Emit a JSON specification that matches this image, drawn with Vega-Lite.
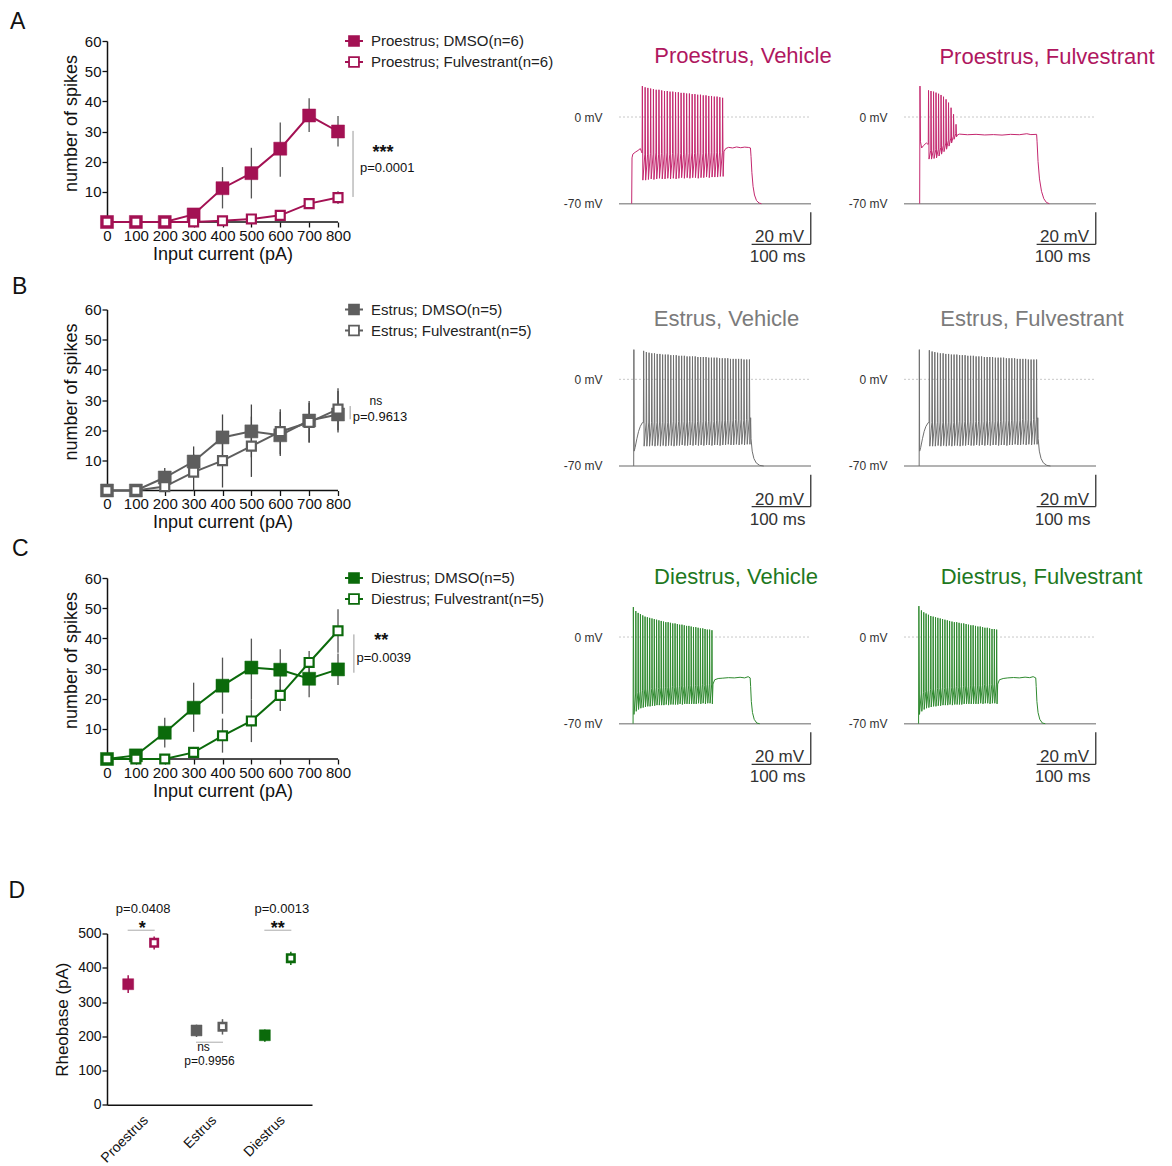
{
"$schema":"https://vega.github.io/schema/vega-lite/v6.json",
"background":"white",
"padding":{"left":8,"top":10,"right":5,"bottom":5},
"config":{"font":"Liberation Sans","view":{"stroke":null},"axis":{"grid":false,"titleFontWeight":"normal"}},
"columns":3,
"align":"each",
"bounds":"flush",
"spacing":{"row":87.5,"column":93},
"resolve":{"scale":{"x":"independent","y":"independent","fill":"independent","stroke":"independent","size":"independent","strokeWidth":"independent","xOffset":"independent"},"axis":{"x":"independent","y":"independent"},"legend":{"fill":"independent"}},
"datasets":{
"cP":[
{"series":"Proestrus; DMSO(n=6)","treat":"DMSO","I":0,"m":0,"lo":0,"hi":0},
{"series":"Proestrus; DMSO(n=6)","treat":"DMSO","I":100,"m":0,"lo":0,"hi":0},
{"series":"Proestrus; DMSO(n=6)","treat":"DMSO","I":200,"m":0,"lo":0,"hi":0},
{"series":"Proestrus; DMSO(n=6)","treat":"DMSO","I":300,"m":2.5,"lo":0.5,"hi":4.5},
{"series":"Proestrus; DMSO(n=6)","treat":"DMSO","I":400,"m":11.2,"lo":4.5,"hi":18.2},
{"series":"Proestrus; DMSO(n=6)","treat":"DMSO","I":500,"m":16.2,"lo":7.8,"hi":24.6},
{"series":"Proestrus; DMSO(n=6)","treat":"DMSO","I":600,"m":24.3,"lo":15,"hi":33},
{"series":"Proestrus; DMSO(n=6)","treat":"DMSO","I":700,"m":35.3,"lo":29.8,"hi":41},
{"series":"Proestrus; DMSO(n=6)","treat":"DMSO","I":800,"m":30,"lo":25,"hi":35.1},
{"series":"Proestrus; Fulvestrant(n=6)","treat":"Fulvestrant","I":0,"m":0,"lo":0,"hi":0},
{"series":"Proestrus; Fulvestrant(n=6)","treat":"Fulvestrant","I":100,"m":0,"lo":0,"hi":0},
{"series":"Proestrus; Fulvestrant(n=6)","treat":"Fulvestrant","I":200,"m":0,"lo":0,"hi":0},
{"series":"Proestrus; Fulvestrant(n=6)","treat":"Fulvestrant","I":300,"m":0,"lo":0,"hi":0.5},
{"series":"Proestrus; Fulvestrant(n=6)","treat":"Fulvestrant","I":400,"m":0.4,"lo":0,"hi":1.5},
{"series":"Proestrus; Fulvestrant(n=6)","treat":"Fulvestrant","I":500,"m":1,"lo":0,"hi":2.5},
{"series":"Proestrus; Fulvestrant(n=6)","treat":"Fulvestrant","I":600,"m":2.2,"lo":0.5,"hi":4},
{"series":"Proestrus; Fulvestrant(n=6)","treat":"Fulvestrant","I":700,"m":6.1,"lo":4.5,"hi":7.7},
{"series":"Proestrus; Fulvestrant(n=6)","treat":"Fulvestrant","I":800,"m":8.1,"lo":6,"hi":10.2}
],
"cE":[
{"series":"Estrus; DMSO(n=5)","treat":"DMSO","I":0,"m":0,"lo":0,"hi":0},
{"series":"Estrus; DMSO(n=5)","treat":"DMSO","I":100,"m":0,"lo":0,"hi":0},
{"series":"Estrus; DMSO(n=5)","treat":"DMSO","I":200,"m":4.3,"lo":1.5,"hi":7.5},
{"series":"Estrus; DMSO(n=5)","treat":"DMSO","I":300,"m":9.6,"lo":4.5,"hi":14.6},
{"series":"Estrus; DMSO(n=5)","treat":"DMSO","I":400,"m":17.6,"lo":10,"hi":25.2},
{"series":"Estrus; DMSO(n=5)","treat":"DMSO","I":500,"m":19.6,"lo":11,"hi":28.5},
{"series":"Estrus; DMSO(n=5)","treat":"DMSO","I":600,"m":18.3,"lo":11.4,"hi":26.9},
{"series":"Estrus; DMSO(n=5)","treat":"DMSO","I":700,"m":23.2,"lo":15.8,"hi":29.7},
{"series":"Estrus; DMSO(n=5)","treat":"DMSO","I":800,"m":25.2,"lo":19.2,"hi":33.9},
{"series":"Estrus; Fulvestrant(n=5)","treat":"Fulvestrant","I":0,"m":0,"lo":0,"hi":0},
{"series":"Estrus; Fulvestrant(n=5)","treat":"Fulvestrant","I":100,"m":0,"lo":0,"hi":0},
{"series":"Estrus; Fulvestrant(n=5)","treat":"Fulvestrant","I":200,"m":1.3,"lo":0,"hi":3},
{"series":"Estrus; Fulvestrant(n=5)","treat":"Fulvestrant","I":300,"m":6.1,"lo":0,"hi":12},
{"series":"Estrus; Fulvestrant(n=5)","treat":"Fulvestrant","I":400,"m":9.9,"lo":1,"hi":19},
{"series":"Estrus; Fulvestrant(n=5)","treat":"Fulvestrant","I":500,"m":14.7,"lo":4.5,"hi":24.5},
{"series":"Estrus; Fulvestrant(n=5)","treat":"Fulvestrant","I":600,"m":19.5,"lo":12,"hi":26},
{"series":"Estrus; Fulvestrant(n=5)","treat":"Fulvestrant","I":700,"m":22.6,"lo":16,"hi":29},
{"series":"Estrus; Fulvestrant(n=5)","treat":"Fulvestrant","I":800,"m":27,"lo":20,"hi":33}
],
"cD":[
{"series":"Diestrus; DMSO(n=5)","treat":"DMSO","I":0,"m":0,"lo":0,"hi":0},
{"series":"Diestrus; DMSO(n=5)","treat":"DMSO","I":100,"m":1.2,"lo":0,"hi":2.5},
{"series":"Diestrus; DMSO(n=5)","treat":"DMSO","I":200,"m":8.7,"lo":3.8,"hi":13.7},
{"series":"Diestrus; DMSO(n=5)","treat":"DMSO","I":300,"m":17,"lo":9,"hi":25.3},
{"series":"Diestrus; DMSO(n=5)","treat":"DMSO","I":400,"m":24.3,"lo":15,"hi":33.6},
{"series":"Diestrus; DMSO(n=5)","treat":"DMSO","I":500,"m":30.3,"lo":19.8,"hi":39.9},
{"series":"Diestrus; DMSO(n=5)","treat":"DMSO","I":600,"m":29.6,"lo":22.5,"hi":36.4},
{"series":"Diestrus; DMSO(n=5)","treat":"DMSO","I":700,"m":26.6,"lo":20.5,"hi":32.5},
{"series":"Diestrus; DMSO(n=5)","treat":"DMSO","I":800,"m":29.7,"lo":24.5,"hi":35},
{"series":"Diestrus; Fulvestrant(n=5)","treat":"Fulvestrant","I":0,"m":0,"lo":0,"hi":0},
{"series":"Diestrus; Fulvestrant(n=5)","treat":"Fulvestrant","I":100,"m":0,"lo":0,"hi":0},
{"series":"Diestrus; Fulvestrant(n=5)","treat":"Fulvestrant","I":200,"m":0,"lo":0,"hi":0},
{"series":"Diestrus; Fulvestrant(n=5)","treat":"Fulvestrant","I":300,"m":2.2,"lo":0.5,"hi":4},
{"series":"Diestrus; Fulvestrant(n=5)","treat":"Fulvestrant","I":400,"m":7.7,"lo":2.1,"hi":13.4},
{"series":"Diestrus; Fulvestrant(n=5)","treat":"Fulvestrant","I":500,"m":12.6,"lo":5.6,"hi":19.8},
{"series":"Diestrus; Fulvestrant(n=5)","treat":"Fulvestrant","I":600,"m":21.1,"lo":15.9,"hi":26.4},
{"series":"Diestrus; Fulvestrant(n=5)","treat":"Fulvestrant","I":700,"m":32,"lo":27,"hi":35.8},
{"series":"Diestrus; Fulvestrant(n=5)","treat":"Fulvestrant","I":800,"m":42.5,"lo":35.2,"hi":49.6}
],
"rheo":[
{"phase":"Proestrus","treat":"DMSO","m":352,"lo":326,"hi":378},
{"phase":"Proestrus","treat":"Fulvestrant","m":473,"lo":453,"hi":491},
{"phase":"Estrus","treat":"DMSO","m":217,"lo":198,"hi":234},
{"phase":"Estrus","treat":"Fulvestrant","m":228,"lo":205,"hi":250},
{"phase":"Diestrus","treat":"DMSO","m":203,"lo":184,"hi":220},
{"phase":"Diestrus","treat":"Fulvestrant","m":428,"lo":408,"hi":447}
],
"pv":[{"t":22,"v":-70},{"t":22.6,"v":-33},{"t":24,"v":-30},{"t":28,"v":-28.5},{"t":33,"v":-27},{"t":37,"v":-25.5},{"t":39,"v":-28},
{"t":40,"v":-29},{"t":40.5,"v":25},{"t":41.4,"v":-51},
{"t":44.8,"v":-30},{"t":45.3,"v":24},{"t":46.2,"v":-51},
{"t":49.6,"v":-30},{"t":50.1,"v":23.5},{"t":51,"v":-50.5},
{"t":54.4,"v":-29.5},{"t":54.9,"v":23},{"t":55.8,"v":-50},
{"t":59.2,"v":-30},{"t":59.7,"v":22.5},{"t":60.6,"v":-50.5},
{"t":64,"v":-29},{"t":64.5,"v":22},{"t":65.4,"v":-50},
{"t":68.8,"v":-30},{"t":69.3,"v":22},{"t":70.2,"v":-49.5},
{"t":73.6,"v":-29.5},{"t":74.1,"v":21.5},{"t":75,"v":-50},
{"t":78.4,"v":-30},{"t":78.9,"v":21},{"t":79.8,"v":-50},
{"t":83.2,"v":-29},{"t":83.7,"v":21},{"t":84.6,"v":-49.5},
{"t":88,"v":-30},{"t":88.5,"v":20.5},{"t":89.4,"v":-50},
{"t":92.8,"v":-29.5},{"t":93.3,"v":20.5},{"t":94.2,"v":-49.5},
{"t":97.6,"v":-30},{"t":98.1,"v":20},{"t":99,"v":-50},
{"t":102.4,"v":-29},{"t":102.9,"v":20},{"t":103.8,"v":-49.5},
{"t":107.2,"v":-29.5},{"t":107.7,"v":19.5},{"t":108.6,"v":-49},
{"t":112,"v":-30},{"t":112.5,"v":19.5},{"t":113.4,"v":-49.5},
{"t":116.8,"v":-29},{"t":117.3,"v":19},{"t":118.2,"v":-49},
{"t":121.6,"v":-29.5},{"t":122.1,"v":19},{"t":123,"v":-49.5},
{"t":126.4,"v":-29},{"t":126.9,"v":18.5},{"t":127.8,"v":-49},
{"t":131.2,"v":-29.5},{"t":131.7,"v":18.5},{"t":132.6,"v":-49},
{"t":136,"v":-29},{"t":136.5,"v":18},{"t":137.4,"v":-49.5},
{"t":140.8,"v":-29},{"t":141.3,"v":18},{"t":142.2,"v":-49},
{"t":145.6,"v":-29.5},{"t":146.1,"v":17.5},{"t":147,"v":-49},
{"t":150.4,"v":-29},{"t":150.9,"v":17.5},{"t":151.8,"v":-48.5},
{"t":155.2,"v":-29},{"t":155.7,"v":17},{"t":156.6,"v":-49},
{"t":160,"v":-28.5},{"t":160.5,"v":17},{"t":161.4,"v":-48.5},
{"t":164.8,"v":-29},{"t":165.3,"v":16.5},{"t":166.2,"v":-48.5},
{"t":169.6,"v":-28.5},{"t":170.1,"v":16.5},{"t":171,"v":-48.5},
{"t":174.4,"v":-29},{"t":174.9,"v":16},{"t":175.8,"v":-48},
{"t":179.2,"v":-28.5},{"t":179.7,"v":15.5},{"t":180.6,"v":-48},
{"t":182,"v":-28},{"t":185,"v":-25.5},{"t":190,"v":-24.5},{"t":197,"v":-25},{"t":204,"v":-24.2},{"t":211,"v":-24.8},{"t":218,"v":-24.3},{"t":225,"v":-24.6},{"t":228,"v":-25},{"t":229,"v":-32},{"t":230.5,"v":-45},{"t":232.5,"v":-56},{"t":235,"v":-63},{"t":238.5,"v":-67.5},{"t":243,"v":-69.5},{"t":247,"v":-70}],
"pf":[{"t":27.2,"v":-70},{"t":27.7,"v":25},{"t":28.6,"v":-20},{"t":30.6,"v":-25},{"t":34,"v":-23},{"t":38.7,"v":-21},{"t":41.5,"v":-22},
{"t":42.1,"v":-22},{"t":42.55,"v":21.5},{"t":43.4,"v":-34},
{"t":46.4,"v":-27},{"t":46.85,"v":21},{"t":47.7,"v":-34},
{"t":50.8,"v":-27},{"t":51.25,"v":20.5},{"t":52.1,"v":-33.5},
{"t":55.1,"v":-26.5},{"t":55.55,"v":19.7},{"t":56.4,"v":-33},
{"t":59.5,"v":-26},{"t":59.95,"v":18.8},{"t":60.8,"v":-31.5},
{"t":63.8,"v":-24.5},{"t":64.25,"v":17.8},{"t":65.1,"v":-30},
{"t":68.1,"v":-23},{"t":68.55,"v":16.4},{"t":69.4,"v":-28},
{"t":72.5,"v":-21},{"t":72.95,"v":14.3},{"t":73.8,"v":-26},
{"t":76.8,"v":-19},{"t":77.25,"v":11.6},{"t":78.1,"v":-23.5},
{"t":81.2,"v":-17},{"t":81.65,"v":7.5},{"t":82.5,"v":-21},
{"t":85.5,"v":-15.5},{"t":85.95,"v":2.2},{"t":86.8,"v":-18},
{"t":89.8,"v":-13.5},{"t":90.25,"v":-5.9},{"t":91.1,"v":-16},
{"t":92.5,"v":-14.5},{"t":96,"v":-13.8},{"t":110,"v":-14.3},{"t":125,"v":-14},{"t":140,"v":-14.5},{"t":155,"v":-14.2},{"t":170,"v":-14.6},{"t":185,"v":-14},{"t":200,"v":-14.3},{"t":213,"v":-13.5},{"t":220,"v":-14.2},{"t":230,"v":-14},{"t":230.8,"v":-20},{"t":232.5,"v":-36},{"t":235,"v":-50},{"t":238.5,"v":-60},{"t":242.5,"v":-66},{"t":247,"v":-69},{"t":252,"v":-70}],
"ev":[{"t":25.5,"v":-70},{"t":25.8,"v":24},{"t":26.3,"v":-58},{"t":28,"v":-55},{"t":31,"v":-48},{"t":34,"v":-42},{"t":37,"v":-38},{"t":40.5,"v":-35},
{"t":42.3,"v":-35},{"t":42.75,"v":23},{"t":43.6,"v":-54},
{"t":47.0,"v":-35},{"t":47.45,"v":22},{"t":48.3,"v":-54},
{"t":51.7,"v":-34.5},{"t":52.15,"v":21.5},{"t":53.0,"v":-54},
{"t":56.4,"v":-35},{"t":56.85,"v":21},{"t":57.7,"v":-53.5},
{"t":61.1,"v":-34.5},{"t":61.55,"v":21},{"t":62.4,"v":-54},
{"t":65.8,"v":-35},{"t":66.25,"v":20.5},{"t":67.1,"v":-53.5},
{"t":70.5,"v":-34.5},{"t":70.95,"v":20.5},{"t":71.8,"v":-54},
{"t":75.2,"v":-35},{"t":75.65,"v":20},{"t":76.5,"v":-53.5},
{"t":79.9,"v":-34.5},{"t":80.35,"v":20},{"t":81.2,"v":-54},
{"t":84.6,"v":-35},{"t":85.05,"v":20},{"t":85.9,"v":-53.5},
{"t":89.4,"v":-34.5},{"t":89.85,"v":19.5},{"t":90.7,"v":-53.5},
{"t":94.1,"v":-34},{"t":94.55,"v":19.5},{"t":95.4,"v":-54},
{"t":98.8,"v":-34.5},{"t":99.25,"v":19.5},{"t":100.1,"v":-53.5},
{"t":103.5,"v":-34},{"t":103.95,"v":19},{"t":104.8,"v":-53.5},
{"t":108.2,"v":-34.5},{"t":108.65,"v":19},{"t":109.5,"v":-53},
{"t":112.9,"v":-34},{"t":113.35,"v":19},{"t":114.2,"v":-53.5},
{"t":117.6,"v":-34.5},{"t":118.05,"v":18.5},{"t":118.9,"v":-53.5},
{"t":122.3,"v":-34},{"t":122.75,"v":18.5},{"t":123.6,"v":-53},
{"t":127.0,"v":-34},{"t":127.45,"v":18.5},{"t":128.3,"v":-53.5},
{"t":131.7,"v":-34.5},{"t":132.15,"v":18.5},{"t":133.0,"v":-53},
{"t":136.4,"v":-34},{"t":136.85,"v":18},{"t":137.7,"v":-53.5},
{"t":141.1,"v":-33.5},{"t":141.55,"v":18},{"t":142.4,"v":-53},
{"t":145.8,"v":-34},{"t":146.25,"v":18},{"t":147.1,"v":-53.5},
{"t":150.5,"v":-33.5},{"t":150.95,"v":18},{"t":151.8,"v":-53},
{"t":155.2,"v":-34},{"t":155.65,"v":17.5},{"t":156.5,"v":-53},
{"t":159.9,"v":-33.5},{"t":160.35,"v":17.5},{"t":161.2,"v":-53.5},
{"t":164.6,"v":-34},{"t":165.05,"v":17.5},{"t":165.9,"v":-53},
{"t":169.3,"v":-33.5},{"t":169.75,"v":17.5},{"t":170.6,"v":-53},
{"t":174.0,"v":-33.5},{"t":174.45,"v":17},{"t":175.3,"v":-53.5},
{"t":178.7,"v":-33},{"t":179.15,"v":17},{"t":180.0,"v":-53},
{"t":183.5,"v":-33.5},{"t":183.95,"v":17},{"t":184.8,"v":-53},
{"t":188.2,"v":-33},{"t":188.65,"v":17},{"t":189.5,"v":-52.5},
{"t":192.9,"v":-33.5},{"t":193.35,"v":16.5},{"t":194.2,"v":-53},
{"t":197.6,"v":-33},{"t":198.05,"v":16.5},{"t":198.9,"v":-53},
{"t":202.3,"v":-32.5},{"t":202.75,"v":16.5},{"t":203.6,"v":-52.5},
{"t":207.0,"v":-33},{"t":207.45,"v":16.5},{"t":208.3,"v":-53},
{"t":211.7,"v":-32.5},{"t":212.15,"v":16.5},{"t":213.0,"v":-52.5},
{"t":216.4,"v":-33},{"t":216.85,"v":16},{"t":217.7,"v":-53},
{"t":221.1,"v":-32.5},{"t":221.55,"v":16},{"t":222.4,"v":-52.5},
{"t":225.8,"v":-32.5},{"t":226.25,"v":16},{"t":227.1,"v":-52.5},
{"t":228.3,"v":-31},{"t":229,"v":-48},{"t":231,"v":-58},{"t":234,"v":-64},{"t":238,"v":-67.5},{"t":244,"v":-69.5},{"t":251,"v":-70}],
"ef":[{"t":26.3,"v":-70},{"t":26.6,"v":24},{"t":27.1,"v":-58},{"t":29,"v":-55},{"t":32,"v":-48},{"t":35,"v":-42},{"t":38,"v":-38},{"t":42,"v":-35},
{"t":43.5,"v":-35},{"t":43.95,"v":23.5},{"t":44.8,"v":-54},
{"t":48.3,"v":-35},{"t":48.75,"v":22.5},{"t":49.6,"v":-54},
{"t":53.0,"v":-34.5},{"t":53.45,"v":22},{"t":54.3,"v":-54},
{"t":57.8,"v":-35},{"t":58.25,"v":21.5},{"t":59.1,"v":-53.5},
{"t":62.6,"v":-34.5},{"t":63.05,"v":21},{"t":63.9,"v":-54},
{"t":67.4,"v":-35},{"t":67.85,"v":21},{"t":68.7,"v":-53.5},
{"t":72.1,"v":-34.5},{"t":72.55,"v":20.5},{"t":73.4,"v":-54},
{"t":76.9,"v":-35},{"t":77.35,"v":20.5},{"t":78.2,"v":-53.5},
{"t":81.7,"v":-34.5},{"t":82.15,"v":20},{"t":83.0,"v":-54},
{"t":86.4,"v":-35},{"t":86.85,"v":20},{"t":87.7,"v":-53.5},
{"t":91.2,"v":-34.5},{"t":91.65,"v":20},{"t":92.5,"v":-53.5},
{"t":96.0,"v":-34},{"t":96.45,"v":19.5},{"t":97.3,"v":-54},
{"t":100.7,"v":-34.5},{"t":101.15,"v":19.5},{"t":102.0,"v":-53.5},
{"t":105.5,"v":-34},{"t":105.95,"v":19.5},{"t":106.8,"v":-53.5},
{"t":110.3,"v":-34.5},{"t":110.75,"v":19},{"t":111.6,"v":-53},
{"t":115.1,"v":-34},{"t":115.55,"v":19},{"t":116.4,"v":-53.5},
{"t":119.8,"v":-34.5},{"t":120.25,"v":19},{"t":121.1,"v":-53.5},
{"t":124.6,"v":-34},{"t":125.05,"v":18.5},{"t":125.9,"v":-53},
{"t":129.4,"v":-34},{"t":129.85,"v":18.5},{"t":130.7,"v":-53.5},
{"t":134.1,"v":-34.5},{"t":134.55,"v":18.5},{"t":135.4,"v":-53},
{"t":138.9,"v":-34},{"t":139.35,"v":18},{"t":140.2,"v":-53.5},
{"t":143.7,"v":-33.5},{"t":144.15,"v":18},{"t":145.0,"v":-53},
{"t":148.4,"v":-34},{"t":148.85,"v":18},{"t":149.7,"v":-53.5},
{"t":153.2,"v":-33.5},{"t":153.65,"v":18},{"t":154.5,"v":-53},
{"t":158.0,"v":-34},{"t":158.45,"v":17.5},{"t":159.3,"v":-53},
{"t":162.8,"v":-33.5},{"t":163.25,"v":17.5},{"t":164.1,"v":-53.5},
{"t":167.5,"v":-34},{"t":167.95,"v":17.5},{"t":168.8,"v":-53},
{"t":172.3,"v":-33.5},{"t":172.75,"v":17.5},{"t":173.6,"v":-53},
{"t":177.1,"v":-33.5},{"t":177.55,"v":17},{"t":178.4,"v":-53.5},
{"t":181.8,"v":-33},{"t":182.25,"v":17},{"t":183.1,"v":-53},
{"t":186.6,"v":-33.5},{"t":187.05,"v":17},{"t":187.9,"v":-53},
{"t":191.4,"v":-33},{"t":191.85,"v":17},{"t":192.7,"v":-52.5},
{"t":196.1,"v":-33.5},{"t":196.55,"v":16.5},{"t":197.4,"v":-53},
{"t":200.9,"v":-33},{"t":201.35,"v":16.5},{"t":202.2,"v":-53},
{"t":205.7,"v":-32.5},{"t":206.15,"v":16.5},{"t":207.0,"v":-52.5},
{"t":210.5,"v":-33},{"t":210.95,"v":16.5},{"t":211.8,"v":-53},
{"t":215.2,"v":-32.5},{"t":215.65,"v":16},{"t":216.5,"v":-52.5},
{"t":220.0,"v":-33},{"t":220.45,"v":16},{"t":221.3,"v":-53},
{"t":224.8,"v":-32.5},{"t":225.25,"v":16},{"t":226.1,"v":-52.5},
{"t":229.5,"v":-32.5},{"t":229.95,"v":16},{"t":230.8,"v":-52.5},
{"t":232,"v":-31},{"t":232.7,"v":-48},{"t":234.7,"v":-58},{"t":237.7,"v":-64},{"t":241.7,"v":-67.5},{"t":247.7,"v":-69.5},{"t":254,"v":-70}],
"dv":[{"t":24.4,"v":-70},{"t":24.9,"v":24.2},{"t":26,"v":-62.5},
{"t":28.8,"v":-46},{"t":29.2,"v":21},{"t":29.9,"v":-60},
{"t":32.8,"v":-45},{"t":33.2,"v":19.5},{"t":33.9,"v":-58.5},
{"t":36.8,"v":-44},{"t":37.2,"v":18.5},{"t":37.9,"v":-57.5},
{"t":40.8,"v":-43},{"t":41.2,"v":17.5},{"t":41.9,"v":-57},
{"t":44.8,"v":-42},{"t":45.2,"v":16.5},{"t":45.9,"v":-56.5},
{"t":48.8,"v":-42},{"t":49.2,"v":16},{"t":49.9,"v":-56},
{"t":52.8,"v":-42},{"t":53.2,"v":15.5},{"t":53.9,"v":-56},
{"t":56.8,"v":-41.5},{"t":57.2,"v":15},{"t":57.9,"v":-55.5},
{"t":60.8,"v":-42},{"t":61.2,"v":14.5},{"t":61.9,"v":-55.5},
{"t":64.8,"v":-41},{"t":65.2,"v":14},{"t":65.9,"v":-55},
{"t":68.8,"v":-41.5},{"t":69.2,"v":13.5},{"t":69.9,"v":-55},
{"t":72.8,"v":-41},{"t":73.2,"v":13},{"t":73.9,"v":-55},
{"t":76.8,"v":-41},{"t":77.2,"v":12.5},{"t":77.9,"v":-55},
{"t":80.8,"v":-40.5},{"t":81.2,"v":12},{"t":81.9,"v":-54.5},
{"t":84.8,"v":-41},{"t":85.2,"v":12},{"t":85.9,"v":-55},
{"t":88.8,"v":-40.5},{"t":89.2,"v":11.5},{"t":89.9,"v":-54.5},
{"t":92.8,"v":-40},{"t":93.2,"v":11},{"t":93.9,"v":-54.5},
{"t":96.8,"v":-40.5},{"t":97.2,"v":11},{"t":97.9,"v":-54.5},
{"t":100.8,"v":-40},{"t":101.2,"v":10.5},{"t":101.9,"v":-54.5},
{"t":104.8,"v":-40},{"t":105.2,"v":10},{"t":105.9,"v":-54},
{"t":108.8,"v":-39.5},{"t":109.2,"v":10},{"t":109.9,"v":-54.5},
{"t":112.8,"v":-40},{"t":113.2,"v":9.5},{"t":113.9,"v":-54},
{"t":116.8,"v":-39.5},{"t":117.2,"v":9},{"t":117.9,"v":-54},
{"t":120.8,"v":-39.5},{"t":121.2,"v":9},{"t":121.9,"v":-54},
{"t":124.8,"v":-39},{"t":125.2,"v":8.5},{"t":125.9,"v":-54},
{"t":128.8,"v":-39.5},{"t":129.2,"v":8},{"t":129.9,"v":-54},
{"t":132.8,"v":-39},{"t":133.2,"v":8},{"t":133.9,"v":-54},
{"t":136.8,"v":-39},{"t":137.2,"v":7.5},{"t":137.9,"v":-53.5},
{"t":140.8,"v":-39},{"t":141.2,"v":7},{"t":141.9,"v":-54},
{"t":144.8,"v":-38.5},{"t":145.2,"v":7},{"t":145.9,"v":-53.5},
{"t":148.8,"v":-39},{"t":149.2,"v":6.5},{"t":149.9,"v":-54},
{"t":152.8,"v":-38.5},{"t":153.2,"v":6},{"t":153.9,"v":-53.5},
{"t":156.8,"v":-38.5},{"t":157.2,"v":6},{"t":157.9,"v":-53.5},
{"t":160.8,"v":-38},{"t":161.2,"v":5.5},{"t":161.9,"v":-54},
{"t":163,"v":-38},{"t":166,"v":-34.5},{"t":172,"v":-33.5},{"t":180,"v":-33.2},{"t":190,"v":-32.8},{"t":200,"v":-33},{"t":210,"v":-32.5},{"t":218,"v":-33},{"t":224,"v":-32},{"t":227.5,"v":-33},{"t":228.3,"v":-40},{"t":229.5,"v":-52},{"t":231.5,"v":-61},{"t":234.5,"v":-66.5},{"t":239,"v":-69.5},{"t":244,"v":-70}],
"df":[{"t":25.3,"v":-70},{"t":25.8,"v":25},{"t":26.9,"v":-62.5},
{"t":29.8,"v":-46},{"t":30.2,"v":21.5},{"t":30.9,"v":-60},
{"t":33.9,"v":-45},{"t":34.3,"v":20},{"t":35,"v":-58.5},
{"t":37.9,"v":-44},{"t":38.3,"v":19},{"t":39,"v":-57.5},
{"t":42,"v":-43},{"t":42.4,"v":18},{"t":43.1,"v":-57},
{"t":46.1,"v":-42.5},{"t":46.5,"v":17},{"t":47.2,"v":-56.5},
{"t":50.2,"v":-42},{"t":50.6,"v":16.5},{"t":51.3,"v":-56},
{"t":54.3,"v":-42},{"t":54.7,"v":16},{"t":55.4,"v":-56},
{"t":58.3,"v":-41.5},{"t":58.7,"v":15.5},{"t":59.4,"v":-55.5},
{"t":62.4,"v":-41.5},{"t":62.8,"v":15},{"t":63.5,"v":-55.5},
{"t":66.5,"v":-41},{"t":66.9,"v":14.5},{"t":67.6,"v":-55},
{"t":70.6,"v":-41.5},{"t":71,"v":14},{"t":71.7,"v":-55},
{"t":74.7,"v":-41},{"t":75.1,"v":13.5},{"t":75.8,"v":-55},
{"t":78.7,"v":-40.5},{"t":79.1,"v":13},{"t":79.8,"v":-54.5},
{"t":82.8,"v":-41},{"t":83.2,"v":12.5},{"t":83.9,"v":-55},
{"t":86.9,"v":-40.5},{"t":87.3,"v":12},{"t":88,"v":-54.5},
{"t":91,"v":-40},{"t":91.4,"v":12},{"t":92.1,"v":-54.5},
{"t":95.1,"v":-40.5},{"t":95.5,"v":11.5},{"t":96.2,"v":-54.5},
{"t":99.1,"v":-40},{"t":99.5,"v":11},{"t":100.2,"v":-54.5},
{"t":103.2,"v":-40},{"t":103.6,"v":11},{"t":104.3,"v":-54},
{"t":107.3,"v":-39.5},{"t":107.7,"v":10.5},{"t":108.4,"v":-54},
{"t":111.4,"v":-40},{"t":111.8,"v":10},{"t":112.5,"v":-54},
{"t":115.5,"v":-39.5},{"t":115.9,"v":9.5},{"t":116.6,"v":-54},
{"t":119.5,"v":-39.5},{"t":119.9,"v":9.5},{"t":120.6,"v":-54},
{"t":123.6,"v":-39},{"t":124,"v":9},{"t":124.7,"v":-54},
{"t":127.7,"v":-39.5},{"t":128.1,"v":8.5},{"t":128.8,"v":-54},
{"t":131.8,"v":-39},{"t":132.2,"v":8.5},{"t":132.9,"v":-53.5},
{"t":135.9,"v":-39},{"t":136.3,"v":8},{"t":137,"v":-54},
{"t":139.9,"v":-38.5},{"t":140.3,"v":7.5},{"t":141,"v":-53.5},
{"t":144,"v":-39},{"t":144.4,"v":7.5},{"t":145.1,"v":-53.5},
{"t":148.1,"v":-38.5},{"t":148.5,"v":7},{"t":149.2,"v":-54},
{"t":152.2,"v":-38.5},{"t":152.6,"v":6.5},{"t":153.3,"v":-53.5},
{"t":156.3,"v":-38},{"t":156.7,"v":6.5},{"t":157.4,"v":-53.5},
{"t":160.3,"v":-38},{"t":160.7,"v":6},{"t":161.4,"v":-54},
{"t":162.5,"v":-38},{"t":165.5,"v":-34.5},{"t":172,"v":-33.5},{"t":180,"v":-33},{"t":190,"v":-32.7},{"t":200,"v":-33},{"t":210,"v":-32.4},{"t":218,"v":-32.8},{"t":224,"v":-32},{"t":228.5,"v":-33},{"t":229.3,"v":-40},{"t":230.5,"v":-52},{"t":232.5,"v":-61},{"t":235.5,"v":-66.5},{"t":240,"v":-69.5},{"t":245,"v":-70}]
},
"concat":[
{
"width":419,"height":181,
"layer":[
{"data":{"values":[{}]},"mark":{"type":"rule","color":"#111","strokeWidth":1.5},"encoding":{"x":{"datum":0,"type":"quantitative"},"x2":{"datum":800},"y":{"datum":0,"type":"quantitative"}}},
{"data":{"name":"cP"},"mark":{"type":"line","color":"#a31153","strokeWidth":2},"encoding":{
"x":{"field":"I","type":"quantitative","scale":{"domain":[0,1451],"nice":false,"zero":false},"axis":{"values":[0,100,200,300,400,500,600,700,800],"tickCount":20,"domain":false,"tickSize":5,"tickWidth":1.3,"tickColor":"#111","labelFontSize":15,"labelPadding":1,"labelOverlap":false,"labelFlush":false,"labelColor":"#111","title":"Input current (pA)","titleFontSize":18,"titleColor":"#111","titlePadding":2,"titleX":115.5}},
"y":{"field":"m","type":"quantitative","scale":{"domain":[0,60],"nice":false,"zero":false},"axis":{"values":[10,20,30,40,50,60],"tickCount":20,"labelOverlap":false,"domainColor":"#111","domainWidth":1.5,"tickSize":5,"tickWidth":1.3,"tickColor":"#111","labelFontSize":15,"labelPadding":1,"labelColor":"#111","title":"number of spikes","titleFontSize":18,"titleColor":"#111","titlePadding":4,"titleY":82}},
"detail":{"field":"series","type":"nominal"}}},
{"data":{"name":"cP"},"mark":{"type":"rule","color":"#555","strokeWidth":1.3},"encoding":{"x":{"field":"I","type":"quantitative"},"y":{"field":"lo","type":"quantitative"},"y2":{"field":"hi"}}},
{"data":{"name":"cP"},"mark":{"type":"point","shape":"square","filled":true,"opacity":1,"stroke":"#a31153"},"encoding":{
"x":{"field":"I","type":"quantitative"},"y":{"field":"m","type":"quantitative"},
"fill":{"field":"series","type":"nominal","scale":{"range":["#a31153","#ffffff"]},"legend":{"orient":"none","legendX":237,"legendY":-10,"title":null,"symbolType":"M-1,0H-0.55M0.55,0H1M-0.55,-0.55H0.55V0.55H-0.55Z","symbolSize":324,"symbolStrokeColor":"#a31153","symbolStrokeWidth":1.8,"symbolOpacity":1,"labelFontSize":15,"labelColor":"#222","labelOffset":7,"labelLimit":400,"rowPadding":2}},
"size":{"field":"treat","type":"ordinal","scale":{"domain":["DMSO","Fulvestrant"],"range":[170,80]},"legend":null},
"strokeWidth":{"field":"treat","type":"ordinal","scale":{"domain":["DMSO","Fulvestrant"],"range":[0.5,2.2]},"legend":null}}},
{"data":{"values":[{}]},"mark":{"type":"rule","color":"#999","strokeWidth":1},"encoding":{"x":{"datum":852,"type":"quantitative"},"y":{"datum":8.3,"type":"quantitative"},"y2":{"datum":30.2}}},
{"data":{"values":[{}]},"mark":{"type":"text","text":"***","fontSize":18,"fontWeight":"bold","align":"center","baseline":"alphabetic","color":"#111"},"encoding":{"x":{"datum":956,"type":"quantitative"},"y":{"datum":21.2,"type":"quantitative"}}},
{"data":{"values":[{}]},"mark":{"type":"text","text":"p=0.0001","fontSize":13,"align":"left","baseline":"alphabetic","color":"#111"},"encoding":{"x":{"datum":876,"type":"quantitative"},"y":{"datum":16.5,"type":"quantitative"}}},
{"data":{"values":[{}]},"mark":{"type":"text","text":"A","fontSize":23,"align":"left","baseline":"alphabetic","color":"#111"},"encoding":{"x":{"datum":-336,"type":"quantitative"},"y":{"datum":64,"type":"quantitative"}}}
]
},
{
"width":192,"height":181,
"layer":[
{"data":{"values":[{}]},"mark":{"type":"rule","color":"#c8c8c8","strokeDash":[2,2],"strokeWidth":1},"encoding":{"x":{"datum":0,"type":"quantitative","scale":{"domain":[0,333],"nice":false,"zero":false},"axis":null},"x2":{"datum":333},"y":{"datum":0,"type":"quantitative","scale":{"domain":[-84.8,61.4],"nice":false,"zero":false},"axis":{"values":[0,-70],"labelExpr":"datum.value + ' mV'","domain":false,"ticks":false,"title":null,"labelFontSize":12,"labelPadding":17,"labelColor":"#333"}}}},
{"data":{"values":[{}]},"mark":{"type":"rule","color":"#9a9a9a","strokeWidth":1.5},"encoding":{"x":{"datum":0,"type":"quantitative","axis":null},"x2":{"datum":333},"y":{"datum":-70,"type":"quantitative"}}},
{"data":{"name":"pv"},"mark":{"type":"line","color":"#c4286f","strokeWidth":1},"encoding":{"x":{"field":"t","type":"quantitative","axis":null},"y":{"field":"v","type":"quantitative"}}},
{"data":{"values":[{}]},"mark":{"type":"rule","color":"#333","strokeWidth":1.3},"encoding":{"x":{"datum":332.6,"type":"quantitative","axis":null},"y":{"datum":-77,"type":"quantitative"},"y2":{"datum":-102.8}}},
{"data":{"values":[{}]},"mark":{"type":"rule","color":"#333","strokeWidth":1.3},"encoding":{"x":{"datum":230,"type":"quantitative","axis":null},"x2":{"datum":332.6},"y":{"datum":-102.8,"type":"quantitative"}}},
{"data":{"values":[{}]},"mark":{"type":"text","text":"20 mV","fontSize":17,"align":"right","baseline":"alphabetic","color":"#333"},"encoding":{"x":{"datum":321,"type":"quantitative","axis":null},"y":{"datum":-101.3,"type":"quantitative"}}},
{"data":{"values":[{}]},"mark":{"type":"text","text":"100 ms","fontSize":17,"align":"center","baseline":"alphabetic","color":"#333"},"encoding":{"x":{"datum":275,"type":"quantitative","axis":null},"y":{"datum":-117.5,"type":"quantitative"}}},
{"data":{"values":[{}]},"mark":{"type":"text","text":"Proestrus, Vehicle","fontSize":22,"align":"center","baseline":"alphabetic","color":"#b0175f"},"encoding":{"x":{"datum":215,"type":"quantitative","axis":null},"y":{"datum":43.9,"type":"quantitative"}}}
]
},
{
"width":192,"height":181,
"layer":[
{"data":{"values":[{}]},"mark":{"type":"rule","color":"#c8c8c8","strokeDash":[2,2],"strokeWidth":1},"encoding":{"x":{"datum":0,"type":"quantitative","scale":{"domain":[0,333],"nice":false,"zero":false},"axis":null},"x2":{"datum":333},"y":{"datum":0,"type":"quantitative","scale":{"domain":[-84.8,61.4],"nice":false,"zero":false},"axis":{"values":[0,-70],"labelExpr":"datum.value + ' mV'","domain":false,"ticks":false,"title":null,"labelFontSize":12,"labelPadding":17,"labelColor":"#333"}}}},
{"data":{"values":[{}]},"mark":{"type":"rule","color":"#9a9a9a","strokeWidth":1.5},"encoding":{"x":{"datum":0,"type":"quantitative","axis":null},"x2":{"datum":333},"y":{"datum":-70,"type":"quantitative"}}},
{"data":{"name":"pf"},"mark":{"type":"line","color":"#c4286f","strokeWidth":1},"encoding":{"x":{"field":"t","type":"quantitative","axis":null},"y":{"field":"v","type":"quantitative"}}},
{"data":{"values":[{}]},"mark":{"type":"rule","color":"#333","strokeWidth":1.3},"encoding":{"x":{"datum":332.6,"type":"quantitative","axis":null},"y":{"datum":-77,"type":"quantitative"},"y2":{"datum":-102.8}}},
{"data":{"values":[{}]},"mark":{"type":"rule","color":"#333","strokeWidth":1.3},"encoding":{"x":{"datum":230,"type":"quantitative","axis":null},"x2":{"datum":332.6},"y":{"datum":-102.8,"type":"quantitative"}}},
{"data":{"values":[{}]},"mark":{"type":"text","text":"20 mV","fontSize":17,"align":"right","baseline":"alphabetic","color":"#333"},"encoding":{"x":{"datum":321,"type":"quantitative","axis":null},"y":{"datum":-101.3,"type":"quantitative"}}},
{"data":{"values":[{}]},"mark":{"type":"text","text":"100 ms","fontSize":17,"align":"center","baseline":"alphabetic","color":"#333"},"encoding":{"x":{"datum":275,"type":"quantitative","axis":null},"y":{"datum":-117.5,"type":"quantitative"}}},
{"data":{"values":[{}]},"mark":{"type":"text","text":"Proestrus, Fulvestrant","fontSize":22,"align":"center","baseline":"alphabetic","color":"#b0175f"},"encoding":{"x":{"datum":248,"type":"quantitative","axis":null},"y":{"datum":42.6,"type":"quantitative"}}}
]
},
{
"width":419,"height":181,
"layer":[
{"data":{"values":[{}]},"mark":{"type":"rule","color":"#111","strokeWidth":1.5},"encoding":{"x":{"datum":0,"type":"quantitative"},"x2":{"datum":800},"y":{"datum":0,"type":"quantitative"}}},
{"data":{"name":"cE"},"mark":{"type":"line","color":"#5e5e5e","strokeWidth":2},"encoding":{
"x":{"field":"I","type":"quantitative","scale":{"domain":[0,1451],"nice":false,"zero":false},"axis":{"values":[0,100,200,300,400,500,600,700,800],"tickCount":20,"domain":false,"tickSize":5,"tickWidth":1.3,"tickColor":"#111","labelFontSize":15,"labelPadding":1,"labelOverlap":false,"labelFlush":false,"labelColor":"#111","title":"Input current (pA)","titleFontSize":18,"titleColor":"#111","titlePadding":2,"titleX":115.5}},
"y":{"field":"m","type":"quantitative","scale":{"domain":[0,60],"nice":false,"zero":false},"axis":{"values":[10,20,30,40,50,60],"tickCount":20,"labelOverlap":false,"domainColor":"#111","domainWidth":1.5,"tickSize":5,"tickWidth":1.3,"tickColor":"#111","labelFontSize":15,"labelPadding":1,"labelColor":"#111","title":"number of spikes","titleFontSize":18,"titleColor":"#111","titlePadding":4,"titleY":82}},
"detail":{"field":"series","type":"nominal"}}},
{"data":{"name":"cE"},"mark":{"type":"rule","color":"#444","strokeWidth":1.3},"encoding":{"x":{"field":"I","type":"quantitative"},"y":{"field":"lo","type":"quantitative"},"y2":{"field":"hi"}}},
{"data":{"name":"cE"},"mark":{"type":"point","shape":"square","filled":true,"opacity":1,"stroke":"#5e5e5e"},"encoding":{
"x":{"field":"I","type":"quantitative"},"y":{"field":"m","type":"quantitative"},
"fill":{"field":"series","type":"nominal","scale":{"range":["#5e5e5e","#ffffff"]},"legend":{"orient":"none","legendX":237,"legendY":-10,"title":null,"symbolType":"M-1,0H-0.55M0.55,0H1M-0.55,-0.55H0.55V0.55H-0.55Z","symbolSize":324,"symbolStrokeColor":"#5e5e5e","symbolStrokeWidth":1.8,"symbolOpacity":1,"labelFontSize":15,"labelColor":"#222","labelOffset":7,"labelLimit":400,"rowPadding":2}},
"size":{"field":"treat","type":"ordinal","scale":{"domain":["DMSO","Fulvestrant"],"range":[170,80]},"legend":null},
"strokeWidth":{"field":"treat","type":"ordinal","scale":{"domain":["DMSO","Fulvestrant"],"range":[0.5,2.2]},"legend":null}}},
{"data":{"values":[{}]},"mark":{"type":"rule","color":"#999","strokeWidth":1},"encoding":{"x":{"datum":842,"type":"quantitative"},"y":{"datum":23.6,"type":"quantitative"},"y2":{"datum":28}}},
{"data":{"values":[{}]},"mark":{"type":"text","text":"ns","fontSize":12,"align":"center","baseline":"alphabetic","color":"#111"},"encoding":{"x":{"datum":931,"type":"quantitative"},"y":{"datum":28.3,"type":"quantitative"}}},
{"data":{"values":[{}]},"mark":{"type":"text","text":"p=0.9613","fontSize":13,"align":"left","baseline":"alphabetic","color":"#111"},"encoding":{"x":{"datum":851,"type":"quantitative"},"y":{"datum":23.1,"type":"quantitative"}}},
{"data":{"values":[{}]},"mark":{"type":"text","text":"B","fontSize":23,"align":"left","baseline":"alphabetic","color":"#111"},"encoding":{"x":{"datum":-329,"type":"quantitative"},"y":{"datum":65.1,"type":"quantitative"}}}
]
},
{
"width":192,"height":181,
"layer":[
{"data":{"values":[{}]},"mark":{"type":"rule","color":"#c8c8c8","strokeDash":[2,2],"strokeWidth":1},"encoding":{"x":{"datum":0,"type":"quantitative","scale":{"domain":[0,333],"nice":false,"zero":false},"axis":null},"x2":{"datum":333},"y":{"datum":0,"type":"quantitative","scale":{"domain":[-89.8,56.4],"nice":false,"zero":false},"axis":{"values":[0,-70],"labelExpr":"datum.value + ' mV'","domain":false,"ticks":false,"title":null,"labelFontSize":12,"labelPadding":17,"labelColor":"#333"}}}},
{"data":{"values":[{}]},"mark":{"type":"rule","color":"#9a9a9a","strokeWidth":1.5},"encoding":{"x":{"datum":0,"type":"quantitative","axis":null},"x2":{"datum":333},"y":{"datum":-70,"type":"quantitative"}}},
{"data":{"name":"ev"},"mark":{"type":"line","color":"#707070","strokeWidth":1},"encoding":{"x":{"field":"t","type":"quantitative","axis":null},"y":{"field":"v","type":"quantitative"}}},
{"data":{"values":[{}]},"mark":{"type":"rule","color":"#333","strokeWidth":1.3},"encoding":{"x":{"datum":332.6,"type":"quantitative","axis":null},"y":{"datum":-77,"type":"quantitative"},"y2":{"datum":-102.8}}},
{"data":{"values":[{}]},"mark":{"type":"rule","color":"#333","strokeWidth":1.3},"encoding":{"x":{"datum":230,"type":"quantitative","axis":null},"x2":{"datum":332.6},"y":{"datum":-102.8,"type":"quantitative"}}},
{"data":{"values":[{}]},"mark":{"type":"text","text":"20 mV","fontSize":17,"align":"right","baseline":"alphabetic","color":"#333"},"encoding":{"x":{"datum":321,"type":"quantitative","axis":null},"y":{"datum":-101.3,"type":"quantitative"}}},
{"data":{"values":[{}]},"mark":{"type":"text","text":"100 ms","fontSize":17,"align":"center","baseline":"alphabetic","color":"#333"},"encoding":{"x":{"datum":275,"type":"quantitative","axis":null},"y":{"datum":-117.5,"type":"quantitative"}}},
{"data":{"values":[{}]},"mark":{"type":"text","text":"Estrus, Vehicle","fontSize":22,"align":"center","baseline":"alphabetic","color":"#7b7b7b"},"encoding":{"x":{"datum":186.4,"type":"quantitative","axis":null},"y":{"datum":43,"type":"quantitative"}}}
]
},
{
"width":192,"height":181,
"layer":[
{"data":{"values":[{}]},"mark":{"type":"rule","color":"#c8c8c8","strokeDash":[2,2],"strokeWidth":1},"encoding":{"x":{"datum":0,"type":"quantitative","scale":{"domain":[0,333],"nice":false,"zero":false},"axis":null},"x2":{"datum":333},"y":{"datum":0,"type":"quantitative","scale":{"domain":[-89.8,56.4],"nice":false,"zero":false},"axis":{"values":[0,-70],"labelExpr":"datum.value + ' mV'","domain":false,"ticks":false,"title":null,"labelFontSize":12,"labelPadding":17,"labelColor":"#333"}}}},
{"data":{"values":[{}]},"mark":{"type":"rule","color":"#9a9a9a","strokeWidth":1.5},"encoding":{"x":{"datum":0,"type":"quantitative","axis":null},"x2":{"datum":333},"y":{"datum":-70,"type":"quantitative"}}},
{"data":{"name":"ef"},"mark":{"type":"line","color":"#707070","strokeWidth":1},"encoding":{"x":{"field":"t","type":"quantitative","axis":null},"y":{"field":"v","type":"quantitative"}}},
{"data":{"values":[{}]},"mark":{"type":"rule","color":"#333","strokeWidth":1.3},"encoding":{"x":{"datum":332.6,"type":"quantitative","axis":null},"y":{"datum":-77,"type":"quantitative"},"y2":{"datum":-102.8}}},
{"data":{"values":[{}]},"mark":{"type":"rule","color":"#333","strokeWidth":1.3},"encoding":{"x":{"datum":230,"type":"quantitative","axis":null},"x2":{"datum":332.6},"y":{"datum":-102.8,"type":"quantitative"}}},
{"data":{"values":[{}]},"mark":{"type":"text","text":"20 mV","fontSize":17,"align":"right","baseline":"alphabetic","color":"#333"},"encoding":{"x":{"datum":321,"type":"quantitative","axis":null},"y":{"datum":-101.3,"type":"quantitative"}}},
{"data":{"values":[{}]},"mark":{"type":"text","text":"100 ms","fontSize":17,"align":"center","baseline":"alphabetic","color":"#333"},"encoding":{"x":{"datum":275,"type":"quantitative","axis":null},"y":{"datum":-117.5,"type":"quantitative"}}},
{"data":{"values":[{}]},"mark":{"type":"text","text":"Estrus, Fulvestrant","fontSize":22,"align":"center","baseline":"alphabetic","color":"#7b7b7b"},"encoding":{"x":{"datum":222,"type":"quantitative","axis":null},"y":{"datum":43,"type":"quantitative"}}}
]
},
{
"width":419,"height":181,
"layer":[
{"data":{"values":[{}]},"mark":{"type":"rule","color":"#111","strokeWidth":1.5},"encoding":{"x":{"datum":0,"type":"quantitative"},"x2":{"datum":800},"y":{"datum":0,"type":"quantitative"}}},
{"data":{"name":"cD"},"mark":{"type":"line","color":"#0b6a0b","strokeWidth":2},"encoding":{
"x":{"field":"I","type":"quantitative","scale":{"domain":[0,1451],"nice":false,"zero":false},"axis":{"values":[0,100,200,300,400,500,600,700,800],"tickCount":20,"domain":false,"tickSize":5,"tickWidth":1.3,"tickColor":"#111","labelFontSize":15,"labelPadding":1,"labelOverlap":false,"labelFlush":false,"labelColor":"#111","title":"Input current (pA)","titleFontSize":18,"titleColor":"#111","titlePadding":2,"titleX":115.5}},
"y":{"field":"m","type":"quantitative","scale":{"domain":[0,60],"nice":false,"zero":false},"axis":{"values":[10,20,30,40,50,60],"tickCount":20,"labelOverlap":false,"domainColor":"#111","domainWidth":1.5,"tickSize":5,"tickWidth":1.3,"tickColor":"#111","labelFontSize":15,"labelPadding":1,"labelColor":"#111","title":"number of spikes","titleFontSize":18,"titleColor":"#111","titlePadding":4,"titleY":82}},
"detail":{"field":"series","type":"nominal"}}},
{"data":{"name":"cD"},"mark":{"type":"rule","color":"#555","strokeWidth":1.3},"encoding":{"x":{"field":"I","type":"quantitative"},"y":{"field":"lo","type":"quantitative"},"y2":{"field":"hi"}}},
{"data":{"name":"cD"},"mark":{"type":"point","shape":"square","filled":true,"opacity":1,"stroke":"#0b6a0b"},"encoding":{
"x":{"field":"I","type":"quantitative"},"y":{"field":"m","type":"quantitative"},
"fill":{"field":"series","type":"nominal","scale":{"range":["#0b6a0b","#ffffff"]},"legend":{"orient":"none","legendX":237,"legendY":-10,"title":null,"symbolType":"M-1,0H-0.55M0.55,0H1M-0.55,-0.55H0.55V0.55H-0.55Z","symbolSize":324,"symbolStrokeColor":"#0b6a0b","symbolStrokeWidth":1.8,"symbolOpacity":1,"labelFontSize":15,"labelColor":"#222","labelOffset":7,"labelLimit":400,"rowPadding":2}},
"size":{"field":"treat","type":"ordinal","scale":{"domain":["DMSO","Fulvestrant"],"range":[170,80]},"legend":null},
"strokeWidth":{"field":"treat","type":"ordinal","scale":{"domain":["DMSO","Fulvestrant"],"range":[0.5,2.2]},"legend":null}}},
{"data":{"values":[{}]},"mark":{"type":"rule","color":"#999","strokeWidth":1},"encoding":{"x":{"datum":855,"type":"quantitative"},"y":{"datum":28.6,"type":"quantitative"},"y2":{"datum":41.3}}},
{"data":{"values":[{}]},"mark":{"type":"text","text":"**","fontSize":18,"fontWeight":"bold","align":"center","baseline":"alphabetic","color":"#111"},"encoding":{"x":{"datum":950,"type":"quantitative"},"y":{"datum":37.6,"type":"quantitative"}}},
{"data":{"values":[{}]},"mark":{"type":"text","text":"p=0.0039","fontSize":13,"align":"left","baseline":"alphabetic","color":"#111"},"encoding":{"x":{"datum":864,"type":"quantitative"},"y":{"datum":32.0,"type":"quantitative"}}},
{"data":{"values":[{}]},"mark":{"type":"text","text":"C","fontSize":23,"align":"left","baseline":"alphabetic","color":"#111"},"encoding":{"x":{"datum":-329,"type":"quantitative"},"y":{"datum":67.3,"type":"quantitative"}}}
]
},
{
"width":192,"height":267.5,
"layer":[
{"data":{"values":[{}]},"mark":{"type":"rule","color":"#c8c8c8","strokeDash":[2,2],"strokeWidth":1},"encoding":{"x":{"datum":0,"type":"quantitative","scale":{"domain":[0,333],"nice":false,"zero":false},"axis":null},"x2":{"datum":333},"y":{"datum":0,"type":"quantitative","scale":{"domain":[-168.4,47.7],"nice":false,"zero":false},"axis":{"values":[0,-70],"labelExpr":"datum.value + ' mV'","domain":false,"ticks":false,"title":null,"labelFontSize":12,"labelPadding":17,"labelColor":"#333"}}}},
{"data":{"values":[{}]},"mark":{"type":"rule","color":"#9a9a9a","strokeWidth":1.5},"encoding":{"x":{"datum":0,"type":"quantitative","axis":null},"x2":{"datum":333},"y":{"datum":-70,"type":"quantitative"}}},
{"data":{"name":"dv"},"mark":{"type":"line","color":"#2f8a2f","strokeWidth":1},"encoding":{"x":{"field":"t","type":"quantitative","axis":null},"y":{"field":"v","type":"quantitative"}}},
{"data":{"values":[{}]},"mark":{"type":"rule","color":"#333","strokeWidth":1.3},"encoding":{"x":{"datum":332.6,"type":"quantitative","axis":null},"y":{"datum":-77,"type":"quantitative"},"y2":{"datum":-102.8}}},
{"data":{"values":[{}]},"mark":{"type":"rule","color":"#333","strokeWidth":1.3},"encoding":{"x":{"datum":230,"type":"quantitative","axis":null},"x2":{"datum":332.6},"y":{"datum":-102.8,"type":"quantitative"}}},
{"data":{"values":[{}]},"mark":{"type":"text","text":"20 mV","fontSize":17,"align":"right","baseline":"alphabetic","color":"#333"},"encoding":{"x":{"datum":321,"type":"quantitative","axis":null},"y":{"datum":-101.3,"type":"quantitative"}}},
{"data":{"values":[{}]},"mark":{"type":"text","text":"100 ms","fontSize":17,"align":"center","baseline":"alphabetic","color":"#333"},"encoding":{"x":{"datum":275,"type":"quantitative","axis":null},"y":{"datum":-117.5,"type":"quantitative"}}},
{"data":{"values":[{}]},"mark":{"type":"text","text":"Diestrus, Vehicle","fontSize":22,"align":"center","baseline":"alphabetic","color":"#1e781e"},"encoding":{"x":{"datum":203,"type":"quantitative","axis":null},"y":{"datum":42.6,"type":"quantitative"}}}
]
},
{
"width":192,"height":267.5,
"layer":[
{"data":{"values":[{}]},"mark":{"type":"rule","color":"#c8c8c8","strokeDash":[2,2],"strokeWidth":1},"encoding":{"x":{"datum":0,"type":"quantitative","scale":{"domain":[0,333],"nice":false,"zero":false},"axis":null},"x2":{"datum":333},"y":{"datum":0,"type":"quantitative","scale":{"domain":[-168.4,47.7],"nice":false,"zero":false},"axis":{"values":[0,-70],"labelExpr":"datum.value + ' mV'","domain":false,"ticks":false,"title":null,"labelFontSize":12,"labelPadding":17,"labelColor":"#333"}}}},
{"data":{"values":[{}]},"mark":{"type":"rule","color":"#9a9a9a","strokeWidth":1.5},"encoding":{"x":{"datum":0,"type":"quantitative","axis":null},"x2":{"datum":333},"y":{"datum":-70,"type":"quantitative"}}},
{"data":{"name":"df"},"mark":{"type":"line","color":"#2f8a2f","strokeWidth":1},"encoding":{"x":{"field":"t","type":"quantitative","axis":null},"y":{"field":"v","type":"quantitative"}}},
{"data":{"values":[{}]},"mark":{"type":"rule","color":"#333","strokeWidth":1.3},"encoding":{"x":{"datum":332.6,"type":"quantitative","axis":null},"y":{"datum":-77,"type":"quantitative"},"y2":{"datum":-102.8}}},
{"data":{"values":[{}]},"mark":{"type":"rule","color":"#333","strokeWidth":1.3},"encoding":{"x":{"datum":230,"type":"quantitative","axis":null},"x2":{"datum":332.6},"y":{"datum":-102.8,"type":"quantitative"}}},
{"data":{"values":[{}]},"mark":{"type":"text","text":"20 mV","fontSize":17,"align":"right","baseline":"alphabetic","color":"#333"},"encoding":{"x":{"datum":321,"type":"quantitative","axis":null},"y":{"datum":-101.3,"type":"quantitative"}}},
{"data":{"values":[{}]},"mark":{"type":"text","text":"100 ms","fontSize":17,"align":"center","baseline":"alphabetic","color":"#333"},"encoding":{"x":{"datum":275,"type":"quantitative","axis":null},"y":{"datum":-117.5,"type":"quantitative"}}},
{"data":{"values":[{}]},"mark":{"type":"text","text":"Diestrus, Fulvestrant","fontSize":22,"align":"center","baseline":"alphabetic","color":"#1e781e"},"encoding":{"x":{"datum":238.5,"type":"quantitative","axis":null},"y":{"datum":42.6,"type":"quantitative"}}}
]
},
{
"width":205,"height":171.3,
"layer":[
{"data":{"name":"rheo"},"mark":{"type":"rule","strokeWidth":1.5},"encoding":{
"x":{"field":"phase","type":"nominal","scale":{"domain":["Proestrus","Estrus","Diestrus"],"paddingInner":0,"paddingOuter":0},"axis":{"labelAngle":-45,"title":null,"ticks":false,"labelFontSize":14,"labelPadding":8,"labelColor":"#111","domainColor":"#111","domainWidth":1.5}},
"xOffset":{"field":"treat","type":"nominal","scale":{"domain":["DMSO","Fulvestrant"],"paddingInner":0,"paddingOuter":0.315}},
"y":{"field":"lo","type":"quantitative","scale":{"domain":[0,500],"nice":false,"zero":false},"axis":{"values":[0,100,200,300,400,500],"tickCount":20,"labelOverlap":false,"title":"Rheobase (pA)","titleFontSize":17,"titleColor":"#111","titlePadding":6,"labelFontSize":14,"labelColor":"#111","labelPadding":1,"tickSize":5,"tickWidth":1.3,"tickColor":"#111","domainColor":"#111","domainWidth":1.5}},
"y2":{"field":"hi"},
"stroke":{"field":"phase","type":"nominal","scale":{"domain":["Proestrus","Estrus","Diestrus"],"range":["#a31153","#5e5e5e","#0b6a0b"]},"legend":null}}},
{"data":{"name":"rheo"},"mark":{"type":"point","shape":"square","filled":true,"opacity":1},"encoding":{
"x":{"field":"phase","type":"nominal"},
"xOffset":{"field":"treat","type":"nominal"},
"y":{"field":"m","type":"quantitative"},
"stroke":{"field":"phase","type":"nominal","legend":null},
"fill":{"condition":{"test":"datum.treat == 'Fulvestrant'","value":"#ffffff"},"field":"phase","type":"nominal","scale":{"domain":["Proestrus","Estrus","Diestrus"],"range":["#a31153","#5e5e5e","#0b6a0b"]},"legend":null},
"size":{"field":"treat","type":"ordinal","scale":{"domain":["DMSO","Fulvestrant"],"range":[120,55]},"legend":null},
"strokeWidth":{"field":"treat","type":"ordinal","scale":{"domain":["DMSO","Fulvestrant"],"range":[0.5,2.6]},"legend":null}}},
{"data":{"values":[{}]},"mark":{"type":"tick","orient":"horizontal","size":27,"thickness":1,"color":"#888"},"encoding":{"x":{"datum":"Proestrus","type":"nominal"},"y":{"datum":509.6,"type":"quantitative"}}},
{"data":{"values":[{}]},"mark":{"type":"tick","orient":"horizontal","size":27,"thickness":1,"color":"#888"},"encoding":{"x":{"datum":"Diestrus","type":"nominal"},"y":{"datum":509.6,"type":"quantitative"}}},
{"data":{"values":[{}]},"mark":{"type":"tick","orient":"horizontal","size":27,"thickness":1,"color":"#888"},"encoding":{"x":{"datum":"Estrus","type":"nominal"},"y":{"datum":182.7,"type":"quantitative"}}},
{"data":{"values":[{}]},"mark":{"type":"text","text":"p=0.0408","fontSize":13,"align":"center","baseline":"alphabetic","color":"#111","dx":2},"encoding":{"x":{"datum":"Proestrus","type":"nominal"},"y":{"datum":561,"type":"quantitative"}}},
{"data":{"values":[{}]},"mark":{"type":"text","text":"*","fontSize":18,"fontWeight":"bold","align":"center","baseline":"alphabetic","color":"#111","dx":1},"encoding":{"x":{"datum":"Proestrus","type":"nominal"},"y":{"datum":500,"type":"quantitative"}}},
{"data":{"values":[{}]},"mark":{"type":"text","text":"p=0.0013","fontSize":13,"align":"center","baseline":"alphabetic","color":"#111","dx":4},"encoding":{"x":{"datum":"Diestrus","type":"nominal"},"y":{"datum":561,"type":"quantitative"}}},
{"data":{"values":[{}]},"mark":{"type":"text","text":"**","fontSize":18,"fontWeight":"bold","align":"center","baseline":"alphabetic","color":"#111"},"encoding":{"x":{"datum":"Diestrus","type":"nominal"},"y":{"datum":500,"type":"quantitative"}}},
{"data":{"values":[{}]},"mark":{"type":"text","text":"ns","fontSize":12,"align":"center","baseline":"alphabetic","color":"#111","dx":-6},"encoding":{"x":{"datum":"Estrus","type":"nominal"},"y":{"datum":155.6,"type":"quantitative"}}},
{"data":{"values":[{}]},"mark":{"type":"text","text":"p=0.9956","fontSize":12,"align":"center","baseline":"alphabetic","color":"#111"},"encoding":{"x":{"datum":"Estrus","type":"nominal"},"y":{"datum":114.8,"type":"quantitative"}}},
{"data":{"values":[{}]},"mark":{"type":"text","text":"D","fontSize":23,"align":"left","baseline":"alphabetic","color":"#111","dx":-98.4},"encoding":{"x":{"datum":"Proestrus","type":"nominal","bandPosition":0},"y":{"datum":603,"type":"quantitative"}}}
]
}
]
}
